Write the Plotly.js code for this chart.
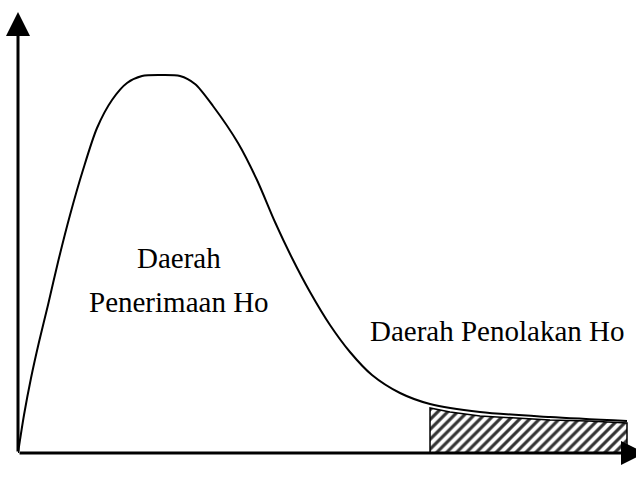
<!DOCTYPE html>
<html>
<head>
<meta charset="utf-8">
<script src="https://cdn.plot.ly/plotly-3.0.1.min.js"></script>
<style>html,body{margin:0;padding:0;background:#fff;}#chart{width:636px;height:491px;}</style>
</head>
<body>
<div id="chart"></div>
<script>
// Curve (density)
var curveX = [0, 0.1, 0.217, 0.35, 0.5, 0.667, 0.867, 1.083, 1.317, 1.567, 1.817, 2.067, 2.367, 2.7, 2.95, 3.25, 3.667, 3.983, 4.283, 4.567, 4.867, 5.2, 5.533, 5.9, 6.367, 6.867, 7.7, 8.867, 10.15];
var curveY = [0, 0.038, 0.075, 0.111, 0.148, 0.191, 0.238, 0.283, 0.325, 0.353, 0.37, 0.377, 0.378, 0.377, 0.369, 0.347, 0.31, 0.273, 0.231, 0.195, 0.161, 0.128, 0.101, 0.078, 0.06, 0.049, 0.041, 0.036, 0.032];
// Rejection region (hatched)
var rejX = [6.867, 7.2, 7.7, 8.3, 8.867, 9.5, 10.15];
var rejY = [0.045, 0.041, 0.037, 0.035, 0.033, 0.032, 0.030];
var labelAccept1 = "Daerah";
var labelAccept2 = "Penerimaan Ho";
var labelReject = "Daerah Penolakan Ho";
var originLabel = "0";

var serif = "Liberation Serif, Times New Roman, serif";

var traces = [
  {
    x: [rejX[0]].concat(rejX, [rejX[rejX.length-1], rejX[0]]),
    y: [0].concat(rejY, [0, 0]),
    mode: "lines",
    fill: "toself",
    fillcolor: "white",
    fillpattern: {shape: "/", size: 7, solidity: 0.45, fgcolor: "#333", bgcolor: "white"},
    line: {color: "black", width: 1.5},
    hoverinfo: "skip",
    showlegend: false
  },
  {
    x: curveX,
    y: curveY,
    mode: "lines",
    line: {color: "black", width: 2, shape: "spline", smoothing: 0.8},
    hoverinfo: "skip",
    showlegend: false
  }
];

var layout = {
  width: 636,
  height: 491,
  margin: {l: 18, r: 0, t: 0, b: 38},
  paper_bgcolor: "white",
  plot_bgcolor: "white",
  showlegend: false,
  xaxis: {range: [0, 10.3], visible: false, fixedrange: true},
  yaxis: {range: [0, 0.453], visible: false, fixedrange: true},
  annotations: [
    {x: 0, y: 0.441, ax: 0, ay: 0, xref: "x", yref: "y", axref: "x", ayref: "y",
     showarrow: true, arrowhead: 2, arrowsize: 1.6, arrowwidth: 3, arrowcolor: "black", text: ""},
    {x: 10.45, y: 0, ax: 0, ay: 0, xref: "x", yref: "y", axref: "x", ayref: "y",
     showarrow: true, arrowhead: 2, arrowsize: 1.6, arrowwidth: 3, arrowcolor: "black", text: ""},
    {x: 0, y: -0.026, xref: "x", yref: "y", text: originLabel, showarrow: false,
     font: {family: serif, size: 28, color: "black"}},
    {x: 2.68, y: 0.195, xref: "x", yref: "y", text: labelAccept1, showarrow: false,
     font: {family: serif, size: 29, color: "black"}},
    {x: 2.68, y: 0.151, xref: "x", yref: "y", text: labelAccept2, showarrow: false,
     font: {family: serif, size: 29, color: "black"}},
    {x: 7.99, y: 0.122, xref: "x", yref: "y", text: labelReject, showarrow: false,
     font: {family: serif, size: 29, color: "black"}}
  ]
};

Plotly.newPlot("chart", traces, layout, {staticPlot: true, displayModeBar: false});
</script>
</body>
</html>
